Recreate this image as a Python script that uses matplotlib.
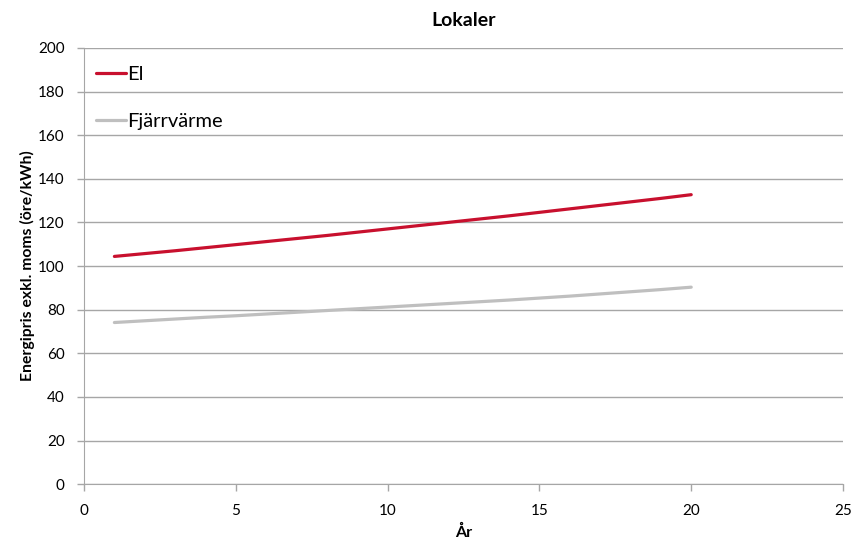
import matplotlib.pyplot as plt

plt.rcParams.update({'font.size': 11, 'font.family': ['Lato', 'DejaVu Sans']})

years = list(range(1, 21))
el = [104.4, 105.7, 107.0, 108.4, 109.8, 111.2, 112.6, 114.0, 115.5, 117.0,
      118.5, 120.0, 121.5, 123.0, 124.6, 126.2, 127.8, 129.4, 131.0, 132.7]
fjarrvarme = [74.1, 74.9, 75.7, 76.5, 77.2, 78.0, 78.8, 79.6, 80.4, 81.2,
              82.0, 82.8, 83.6, 84.4, 85.3, 86.2, 87.2, 88.2, 89.2, 90.3]

fig = plt.figure(figsize=(8.61, 5.44), dpi=100)
ax = fig.add_axes([0.0976, 0.110, 0.8815, 0.802])

ax.plot(years, el, color='#c8102e', linewidth=2.3, solid_capstyle='round', label='El')
ax.plot(years, fjarrvarme, color='#bfbfbf', linewidth=2.3, solid_capstyle='round', label='Fjärrvärme')

ax.set_xlim(0, 25)
ax.set_ylim(0, 200)
ax.set_xticks(range(0, 26, 5))
ax.set_yticks(range(0, 201, 20))
ax.yaxis.grid(True, color='#a6a6a6', linewidth=1)
ax.set_axisbelow(True)

for s in ['top', 'right']:
    ax.spines[s].set_visible(False)
for s in ['left', 'bottom']:
    ax.spines[s].set_color('#a6a6a6')
ax.tick_params(axis='both', colors='#a6a6a6', labelcolor='black', length=5, width=1)
ax.tick_params(axis='x', pad=9)
ax.tick_params(axis='y', pad=9)

ax.set_title('Lokaler', fontweight='bold', fontsize=14, pad=16)
ax.set_xlabel('År', fontweight='bold', fontsize=11.5, labelpad=5)
ax.set_ylabel('Energipris exkl. moms (öre/kWh)', fontweight='bold', fontsize=11.3, labelpad=2)

ax.legend(loc='upper left', bbox_to_anchor=(-0.008, 1.0), frameon=False, fontsize=14.5,
          handlelength=1.5, handletextpad=0.05, labelspacing=1.5, borderaxespad=0.5)

plt.savefig('out.png', dpi=100)
